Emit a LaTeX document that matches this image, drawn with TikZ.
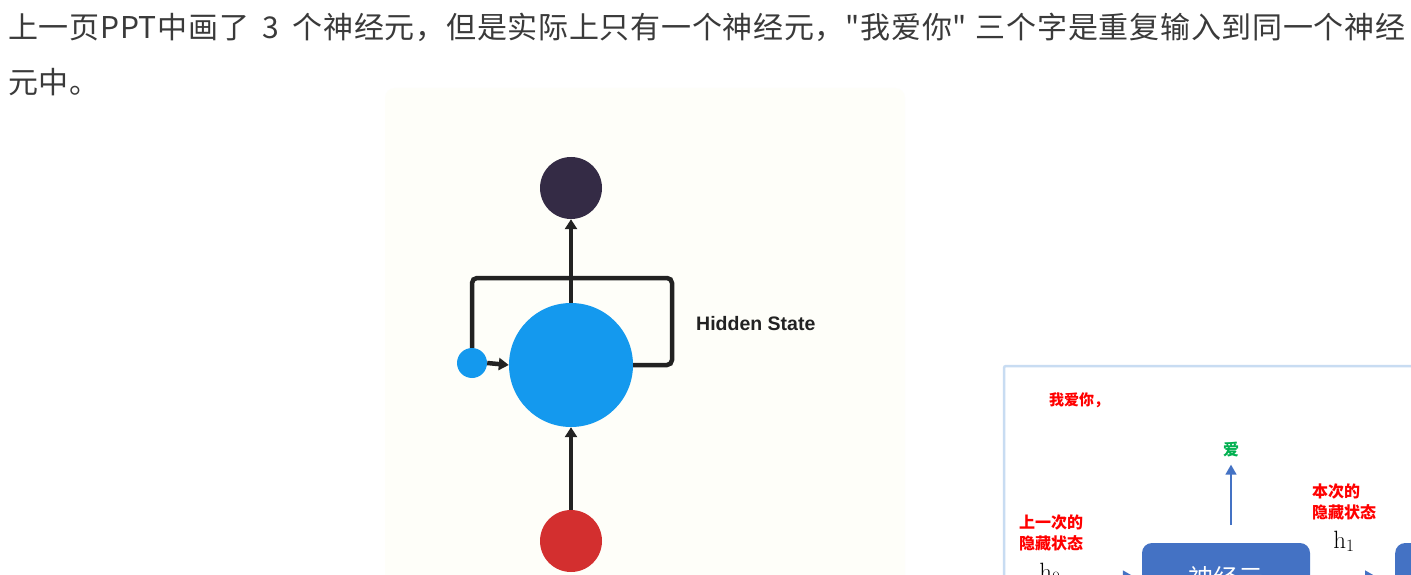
\documentclass[tikz,border=0pt]{standalone}
\usepackage{fontspec}
\newfontfamily\cjk{Noto Sans CJK SC}
\newfontfamily\cjkwide[LetterSpace=2.4]{Noto Sans CJK SC}
\newfontfamily\hsfont{Liberation Sans}
\usetikzlibrary{arrows.meta}
\definecolor{bgcream}{RGB}{254,254,249}
\definecolor{darkc}{RGB}{52,43,69}
\definecolor{bluec}{RGB}{20,153,238}
\definecolor{redc}{RGB}{211,47,47}
\definecolor{linec}{RGB}{34,34,34}
\definecolor{txtgray}{RGB}{58,58,58}
\definecolor{slideblue}{RGB}{68,114,196}
\definecolor{slideborder}{RGB}{200,220,242}
\definecolor{redt}{RGB}{255,0,0}
\definecolor{greent}{RGB}{0,176,80}
\tikzset{
  circ/.style={circle, inner sep=0pt, draw=none},
  arr/.style={draw=linec, line width=4.5pt, -{Triangle[length=10pt,width=12pt]}},
  loopline/.style={draw=linec, line width=4.5pt, rounded corners=5pt},
  sarr/.style={draw=slideblue, line width=1.5pt, -{Triangle[length=10pt,width=11pt]}},
  redlbl/.style={font=\cjk\bfseries\fontsize{16}{21}\selectfont, text=redt, inner sep=0pt, align=left},
  neuron/.style={fill=slideblue, rounded corners=10pt, minimum width=168pt, minimum height=70pt, inner sep=0pt, text=white, font=\cjk\fontsize{25}{30}\selectfont},
  toptext/.style={font=\cjkwide\fontsize{30}{36}\selectfont, text=txtgray, inner sep=0pt, anchor=base west},
  hlbl/.style={font=\fontsize{25}{27}\selectfont, inner sep=0pt, anchor=base}
}
\begin{document}
\begin{tikzpicture}[x=1pt,y=-1pt]
\useasboundingbox (0,0) rectangle (1411,575);
\clip (0,0) rectangle (1411,575);
\fill[white] (0,0) rectangle (1411,575);
% top text
\node[toptext] (l1) at (8,39) {上一页PPT中画了\hspace{0.45em}3\hspace{0.45em}个神经元，但是实际上只有一个神经元，"我爱你"\hspace{0.3em}三个字是重复输入到同一个神经};
\node[toptext] (l2) at (8,94) {元中。};
% left picture
\fill[bgcream, rounded corners=10pt] (385,88) rectangle (905,600);
\node[circ, fill=darkc, minimum size=62pt] (out) at (571,188) {};
\node[circ, fill=bluec, minimum size=124pt] (hid) at (571,365) {};
\node[circ, fill=bluec, minimum size=30pt] (sm) at (472,363) {};
\node[circ, fill=redc, minimum size=62pt] (inp) at (571,541) {};
\node[font=\hsfont\bfseries\fontsize{19.5}{21}\selectfont, text=linec, anchor=west, inner sep=0pt] (hs) at (696,324) {Hidden State};
\coordinate (rt) at (672,278);
\coordinate (lt) at (472,278);
\draw[loopline] (hid.east) -| (rt) -- (lt) -- (sm.north);
\draw[arr] (hid.north) -- (out.south);
\draw[arr] (inp.north) -- (hid.south);
\draw[arr] (sm.east) -- (hid.west);
% right slide
\fill[white] (1004,366) rectangle (1430,600);
\draw[slideborder, line width=2.5pt, rounded corners=2pt] (1004,366) rectangle (1430,600);
\node[redlbl, font=\cjk\bfseries\fontsize{15}{20}\selectfont, anchor=west] (t1) at (1049,400) {我爱你，};
\node[font=\cjk\bfseries\fontsize{16}{20}\selectfont, text=greent, inner sep=0pt] (ai) at (1231,450) {爱};
\node[redlbl, anchor=west] (cur) at (1312,502) {本次的\\隐藏状态};
\node[redlbl, anchor=west] (prev) at (1019,533) {上一次的\\隐藏状态};
\node[hlbl] (h1) at (1344,548) {$\mathrm{h}_1$};
\node[hlbl] (h0) at (1050,580) {$\mathrm{h}_0$};
\node[neuron] (n1) at (1226,578) {神经元};
\node[neuron, anchor=west] (n2) at (1395,578) {};
\coordinate (a1) at (1231,525);
\draw[sarr, shorten >=7pt] (a1) -- (ai.south);
\coordinate (b1) at (1072,576);
\draw[sarr, shorten >=9pt] (b1) -- (b1 -| n1.west);
\coordinate (b2) at (1322,576);
\draw[sarr, shorten >=20pt] (b2) -- (b2 -| n2.west);
\end{tikzpicture}
\end{document}
